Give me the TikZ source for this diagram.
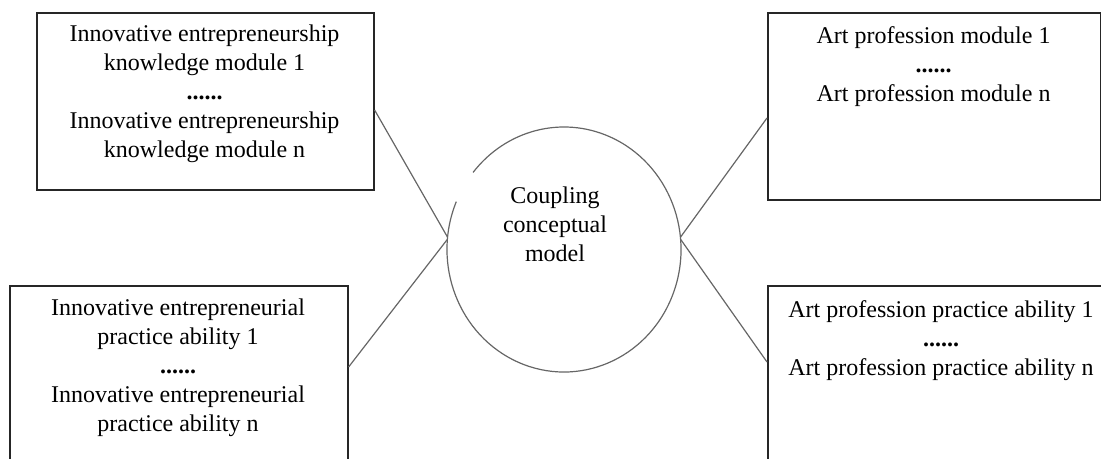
\documentclass[tikz,border=0pt]{standalone}
\usepackage{fontspec}
\setmainfont{Liberation Serif}
\usetikzlibrary{shapes.geometric}

\tikzset{
  modbox/.style={draw=black!85, line width=0.8pt, anchor=north west, inner sep=0pt},
  modtext/.style={align=center, inner sep=0pt, anchor=base, font=\fontsize{12}{14.5}\selectfont},
  link/.style={draw=black!60, line width=0.6pt}
}
\newcommand{\moredots}{\textbf{......}}

\begin{document}
\begin{tikzpicture}[x=0.5pt, y=-0.5pt]
        \clip (0,0) rectangle (1101,459);

        % boxes
        \node[modbox, minimum width=168.5pt, minimum height=88.5pt] (know) at (36,12) {};
        \node[modbox, minimum width=169pt, minimum height=95pt] (pract) at (9,285) {};
        \node[modbox, minimum width=166.5pt, minimum height=93.5pt] (art) at (767,12) {};
        \node[modbox, minimum width=180pt, minimum height=95pt] (artpract) at (767,285) {};

        % texts (anchored at the last baseline)
        \node[modtext] (knowtxt) at (204.5,158) {Innovative entrepreneurship\\knowledge module 1\\\moredots\\Innovative entrepreneurship\\knowledge module n};
        \node[modtext] (practtxt) at (178,431) {Innovative entrepreneurial\\practice ability 1\\\moredots\\Innovative entrepreneurial\\practice ability n};
        \node[modtext] (arttxt) at (933.5,102) {Art profession module 1\\\moredots\\Art profession module n};
        \node[modtext] (artpracttxt) at (941,375) {Art profession practice ability 1\\\moredots\\Art profession practice ability n};

        % coupling model
        \node[ellipse, minimum width=117pt, minimum height=122.5pt, inner sep=0pt, outer sep=0pt] (cm) at (564,249.5) {};
        \draw[link] (cm.center) ++(157:58.5pt and 61.25pt) arc[start angle=157, end angle=501, x radius=58.5pt, y radius=61.25pt];
        \node[modtext] (cmtxt) at (555,262) {Coupling\\conceptual\\model};

        % links
        \draw[link] ([yshift=-49pt]know.north east) -- (cm.174);
        \draw[link] ([yshift=-41pt]pract.north east) -- (cm.175);
        \draw[link] ([yshift=-53pt]art.north west) -- (cm.6);
        \draw[link] ([yshift=-38.5pt]artpract.north west) -- (cm.5);
\end{tikzpicture}
\end{document}
